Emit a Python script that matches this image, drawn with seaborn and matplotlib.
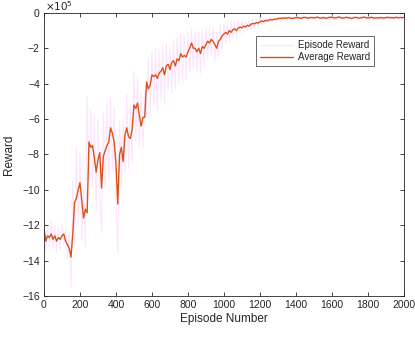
import numpy as np
import pandas as pd
import seaborn as sns
import matplotlib

matplotlib.use("agg")
import matplotlib.pyplot as plt

# values in units of 1e5, sampled every 10 episodes
episodes = np.arange(0, 2001, 10)

average_reward = [
    -12.2, -12.9, -12.6, -12.7, -12.5, -12.8, -12.6, -12.9, -12.7, -12.8,
    -12.6, -12.5, -12.9, -13.1, -13.3, -13.8, -12.5, -10.7, -10.5, -10.0,
    -9.6, -10.6, -11.6, -11.1, -11.3, -7.3, -7.6, -7.5, -8.2, -9.0,
    -8.3, -7.9, -9.9, -8.1, -7.8, -7.5, -7.3, -6.5, -6.8, -7.3,
    -8.5, -10.8, -8.0, -7.6, -8.4, -6.9, -6.5, -7.0, -7.1, -6.6,
    -5.2, -5.4, -5.1, -5.8, -6.4, -5.9, -5.9, -3.9, -4.3, -4.1,
    -3.5, -3.6, -3.5, -3.7, -3.4, -3.3, -3.1, -3.5, -3.0, -2.9,
    -3.2, -2.8, -2.7, -3.0, -2.6, -2.7, -2.3, -2.5, -2.4, -2.5,
    -2.2, -2.0, -1.7, -2.0, -2.0, -2.2, -2.0, -2.3, -1.9, -2.0,
    -1.8, -1.6, -1.7, -1.5, -1.6, -1.8, -2.0, -1.6, -1.5, -1.3,
    -1.2, -1.1, -1.2, -1.0, -1.1, -0.95, -0.9, -1.0, -0.85, -0.8,
    -0.85, -0.75, -0.8, -0.7, -0.75, -0.65, -0.6, -0.62, -0.55, -0.58,
    -0.5, -0.45, -0.5, -0.42, -0.45, -0.4, -0.38, -0.4, -0.36, -0.35,
    -0.33, -0.30, -0.32, -0.28, -0.31, -0.29, -0.27, -0.30, -0.32, -0.29,
    -0.28, -0.26, -0.29, -0.31, -0.27, -0.25, -0.28, -0.30, -0.27, -0.26,
    -0.29, -0.27, -0.24, -0.28, -0.30, -0.26, -0.28, -0.31, -0.27, -0.25,
    -0.24, -0.27, -0.29, -0.26, -0.23, -0.27, -0.30, -0.28, -0.25, -0.27,
    -0.29, -0.31, -0.28, -0.25, -0.27, -0.30, -0.28, -0.26, -0.24, -0.27,
    -0.29, -0.27, -0.25, -0.28, -0.30, -0.27, -0.29, -0.26, -0.28, -0.30,
    -0.27, -0.25, -0.28, -0.26, -0.29, -0.27, -0.25, -0.28, -0.26, -0.27,
    -0.26,
]

episode_reward = [
    -11.9, -13.4, -12.1, -13.2, -11.8, -13.3, -12.0, -13.5, -12.1, -13.4,
    -11.9, -13.1, -12.2, -13.9, -12.4, -15.5, -9.5, -13.0, -7.6, -12.0,
    -7.9, -12.8, -9.6, -13.2, -4.7, -9.5, -5.5, -9.8, -5.9, -11.2,
    -6.0, -10.3, -12.4, -5.6, -10.0, -5.2, -9.4, -4.8, -8.9, -5.3,
    -10.6, -13.6, -6.1, -9.9, -6.0, -9.0, -4.6, -8.8, -5.2, -8.4,
    -3.3, -7.3, -3.6, -7.6, -4.5, -7.7, -4.4, -5.8, -2.6, -5.9,
    -2.2, -5.2, -2.0, -5.5, -2.1, -4.9, -1.8, -5.1, -1.7, -4.4,
    -1.9, -4.5, -1.5, -4.3, -1.4, -4.0, -1.2, -3.9, -1.3, -3.8,
    -1.1, -3.3, -0.9, -3.2, -1.0, -3.3, -1.1, -3.4, -0.9, -3.0,
    -0.8, -2.6, -0.9, -2.4, -0.8, -2.7, -1.1, -2.5, -0.7, -2.1,
    -0.6, -1.7, -0.6, -1.6, -0.5, -1.4, -0.5, -1.4, -0.45, -1.2,
    -0.45, -1.1, -0.45, -1.0, -0.4, -0.95, -0.35, -0.9, -0.35, -0.8,
    -0.3, -0.65, -0.3, -0.6, -0.3, -0.55, -0.25, -0.52, -0.25, -0.48,
    -0.21, -0.42, -0.20, -0.40, -0.19, -0.41, -0.16, -0.42, -0.20, -0.41,
    -0.17, -0.38, -0.18, -0.43, -0.15, -0.37, -0.17, -0.42, -0.16, -0.38,
    -0.18, -0.39, -0.13, -0.40, -0.19, -0.38, -0.17, -0.43, -0.16, -0.37,
    -0.13, -0.39, -0.18, -0.38, -0.12, -0.39, -0.19, -0.40, -0.14, -0.39,
    -0.18, -0.43, -0.17, -0.37, -0.16, -0.42, -0.17, -0.38, -0.13, -0.39,
    -0.18, -0.39, -0.14, -0.40, -0.19, -0.39, -0.18, -0.38, -0.17, -0.42,
    -0.16, -0.37, -0.17, -0.38, -0.18, -0.39, -0.14, -0.40, -0.15, -0.39,
    -0.15,
]

x_ticks = np.arange(0, 2001, 200)
y_ticks = np.arange(-16, 1, 2)


def plot():
    df = pd.DataFrame(
        {"episode": episodes, "episode_reward": episode_reward, "average_reward": average_reward}
    )

    sns.set_style("ticks")
    plt.rcParams["font.family"] = ["Liberation Sans", "DejaVu Sans"]
    plt.rcParams["axes.edgecolor"] = "#262626"
    plt.rcParams["axes.linewidth"] = 0.6

    f = plt.figure(figsize=(4.15, 3.39), dpi=100)
    ax = f.add_axes([0.106, 0.127, 0.867, 0.835])

    sns.lineplot(
        data=df, x="episode", y="episode_reward", ax=ax,
        color="#fde6fd", linewidth=0.8, label="Episode Reward",
    )
    sns.lineplot(
        data=df, x="episode", y="average_reward", ax=ax,
        color="#d95319", linewidth=1.0, label="Average Reward",
    )

    ax.set_xlim(0, 2000)
    ax.set_ylim(-16, 0)
    ax.set_xticks(x_ticks)
    ax.set_yticks(y_ticks)
    ax.tick_params(
        direction="in", length=3, width=0.6, labelsize=7.5, colors="#262626",
        top=True, right=True, pad=3,
    )
    for s in ax.spines.values():
        s.set_visible(True)

    ax.set_xlabel("Episode Number", fontsize=8.5, color="#262626", labelpad=2)
    ax.set_ylabel("Reward", fontsize=8.5, color="#262626", labelpad=5)
    # exponent label, MATLAB style
    f.text(45 / 415, 1 - 11 / 339, r"$\times10^5$", fontsize=7.5,
           color="#262626", ha="left", va="baseline")

    leg = ax.legend(
        loc="upper right", bbox_to_anchor=(0.917, 0.918), fontsize=7,
        frameon=True, fancybox=False, handlelength=3.4, borderpad=0.4,
        labelspacing=0.2, borderaxespad=0, handletextpad=0.5,
    )
    leg.get_frame().set_edgecolor("#262626")
    leg.get_frame().set_linewidth(0.6)

    return f


if __name__ == "__main__":
    fig = plot()
    fig.savefig("out.png", dpi=100)
